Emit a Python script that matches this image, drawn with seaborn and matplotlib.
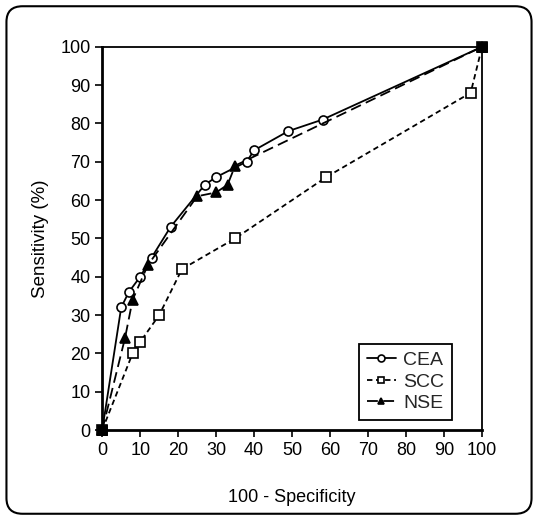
import pandas as pd
import seaborn as sns
from matplotlib import pyplot as plt
from matplotlib.patches import FancyBboxPatch

sns.set_style('ticks')
plt.rcParams['font.family'] = ['Liberation Sans', 'DejaVu Sans']

cea_x = [0, 5, 7, 10, 13, 18, 27, 30, 38, 40, 49, 58, 100]
cea_y = [0, 32, 36, 40, 45, 53, 64, 66, 70, 73, 78, 81, 100]
scc_x = [0, 8, 10, 15, 21, 35, 59, 97, 100]
scc_y = [0, 20, 23, 30, 42, 50, 66, 88, 100]
nse_x = [0, 6, 8, 12, 25, 30, 33, 35, 100]
nse_y = [0, 24, 34, 43, 61, 62, 64, 69, 100]

fig = plt.figure(figsize=(5.38, 5.2), dpi=100)
ax = fig.add_axes([0.19, 0.173, 0.706, 0.737])

common = dict(ax=ax, color='black', linewidth=1.3, markersize=6.5,
              markeredgecolor='black', markeredgewidth=1.2, clip_on=False)
sns.lineplot(x=cea_x, y=cea_y, marker='o', markerfacecolor='white',
             label='CEA', **common)
sns.lineplot(x=scc_x, y=scc_y, marker='s', markerfacecolor='white',
             label='SCC', dashes=(3, 2), **common)
sns.lineplot(x=nse_x, y=nse_y, marker='^', markerfacecolor='black',
             label='NSE', dashes=(6, 3), **common)
# shared end points look solid black in the original
sns.scatterplot(x=[scc_x[0], scc_x[-1]], y=[scc_y[0], scc_y[-1]], ax=ax,
                marker='s', s=50, color='black', edgecolor='black',
                clip_on=False, zorder=5, legend=False)

ax.set_xlim(0, 100)
ax.set_ylim(0, 100)
ax.set_xticks(range(0, 101, 10))
ax.set_yticks(range(0, 101, 10))
ax.tick_params(labelsize=13, length=5, width=1.2, colors='black')
ax.set_xlabel('100 - Specificity', fontsize=13, labelpad=22, color='black')
ax.set_ylabel('Sensitivity (%)', fontsize=13.5, labelpad=8, color='black')
for side in ['left', 'bottom']:
    ax.spines[side].set_linewidth(2)
for side in ['top', 'right']:
    ax.spines[side].set_visible(True)
    ax.spines[side].set_linewidth(1.3)
for s in ax.spines.values():
    s.set_color('black')

leg = ax.legend(loc='lower right', bbox_to_anchor=(0.92, 0.026), fontsize=14,
                handlelength=1.5, handletextpad=0.35, borderpad=0.4,
                labelspacing=0.2, borderaxespad=0, fancybox=False,
                edgecolor='black', framealpha=1)
leg.get_frame().set_linewidth(1.3)
for h in leg.legend_handles:
    h.set_markersize(5)

fig.patches.append(FancyBboxPatch((0.012, 0.012), 0.976, 0.976,
                                  boxstyle='round,pad=0,rounding_size=0.03',
                                  transform=fig.transFigure, fill=False,
                                  edgecolor='black', linewidth=1.5))

fig.savefig('out.png', dpi=100)
